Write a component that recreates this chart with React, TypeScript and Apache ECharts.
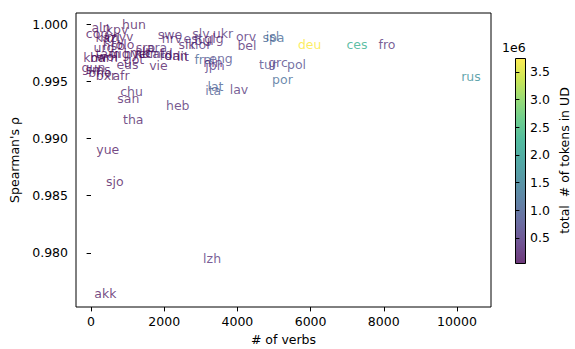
import React, { useEffect, useRef } from "react";
import * as echarts from "echarts";

const names = [
  "akk", "lzh", "sjo", "yue", "tha", "heb", "san", "chu", "ita", "lat",
  "lav", "por", "rus", "deu", "ces", "fro", "bel", "pol", "tur", "grc",
  "isl", "spa", "swe", "slv", "ukr", "orv", "hrv", "est", "bul", "glg",
  "slk", "nor", "fra", "eng", "jpn", "hin", "vie", "ara", "srp", "lit",
  "got", "eus", "kmr", "bam", "gun", "bho", "bxr", "afr", "sms", "aln",
  "kpv", "hun", "cop", "kaz", "myv", "krl", "urd", "hsb", "olo", "tam",
  "uig", "kor", "hye", "cat", "nld", "ron", "dan", "mlt", "wol",
];
const verbs = [
  391, 3309, 653, 457, 1155, 2370, 1020, 1109, 3340, 3400,
  4044, 5232, 10383, 5976, 7268, 8087, 4262, 5615, 4836, 5109,
  4959, 4986, 2158, 3005, 3607, 4235, 2213, 2787, 3087, 3361,
  2623, 3005, 3060, 3552, 3388, 3333, 1844, 1803, 1489, 2514,
  1175, 997, 123, 355, 68, 246, 410, 820, 191, 273,
  710, 1175, 164, 410, 792, 574, 355, 628, 929, 464,
  792, 1475, 1202, 1749, 1967, 2158, 2322, 1339, 437,
];
const rho = [
  0.97646, 0.97947, 0.98628, 0.98907, 0.99169, 0.99286, 0.99349, 0.99408, 0.99423, 0.99454,
  0.99425, 0.99519, 0.99539, 0.99821, 0.99821, 0.99821, 0.99812, 0.9965, 0.9965, 0.99664,
  0.99897, 0.99888, 0.99914, 0.99923, 0.9992, 0.99897, 0.99873, 0.99879, 0.99862, 0.99879,
  0.99827, 0.99827, 0.99693, 0.997, 0.99641, 0.99666, 0.99635, 0.99795, 0.99795, 0.99722,
  0.99693, 0.9965, 0.99707, 0.99707, 0.9962, 0.99576, 0.99548, 0.99548, 0.996, 0.99973,
  0.99958, 0.99997, 0.99923, 0.99886, 0.99897, 0.99879, 0.99798, 0.9981, 0.99827, 0.99748,
  0.99748, 0.99748, 0.9974, 0.9974, 0.99748, 0.99731, 0.99731, 0.99757, 0.99722,
];
// total # of tokens in UD, in millions
const tokens = [
  0.06, 0.35, 0.05, 0.06, 0.15, 0.3, 0.15, 0.25, 0.95, 1.0,
  0.35, 1.15, 1.7, 3.75, 2.25, 0.35, 0.3, 0.7, 0.7, 0.6,
  1.05, 1.1, 0.3, 0.3, 0.35, 0.4, 0.25, 0.45, 0.2, 0.2,
  0.15, 0.55, 1.05, 0.75, 0.5, 0.4, 0.1, 0.35, 0.1, 0.12,
  0.07, 0.15, 0.06, 0.05, 0.05, 0.05, 0.05, 0.08, 0.05, 0.05,
  0.06, 0.07, 0.06, 0.06, 0.07, 0.05, 0.15, 0.06, 0.05, 0.05,
  0.06, 0.15, 0.06, 0.2, 0.3, 0.3, 0.1, 0.05, 0.05,
];
const xTicks = [0, 2000, 4000, 6000, 8000, 10000];
const yTicks = [0.98, 0.985, 0.99, 0.995, 1.0];
const cbTicks = [0.5, 1.0, 1.5, 2.0, 2.5, 3.0, 3.5];
const cbMin = 0.048;
const cbMax = 3.753;

const VIRIDIS = [
  "#440154", "#482475", "#414487", "#355f8d", "#2a788e", "#21918c",
  "#22a884", "#44bf70", "#7ad151", "#bddf26", "#fde725",
];
const BAR_ALPHA = 0.78;
const LABEL_ALPHA = 0.92;
const FONT = "DejaVu Sans";

function hexToRgb(h: string) {
  return [parseInt(h.slice(1, 3), 16), parseInt(h.slice(3, 5), 16), parseInt(h.slice(5, 7), 16)];
}
function viridis(t: number, alpha: number): string {
  const tt = Math.max(0, Math.min(1, t));
  const p = tt * (VIRIDIS.length - 1);
  const i = Math.min(Math.floor(p), VIRIDIS.length - 2);
  const f = p - i;
  const a = hexToRgb(VIRIDIS[i]);
  const b = hexToRgb(VIRIDIS[i + 1]);
  const c = a.map((v, k) => Math.round(v + (b[k] - v) * f));
  return `rgba(${c[0]},${c[1]},${c[2]},${alpha})`;
}

export default function App() {
  const ref = useRef<HTMLDivElement>(null);
  useEffect(() => {
    if (!ref.current) return;
    const chart = echarts.init(ref.current, null, { renderer: "svg" });
    const data = names.map((n, i) => ({
      name: n,
      value: [verbs[i], rho[i]],
      label: { color: viridis((tokens[i] - cbMin) / (cbMax - cbMin), LABEL_ALPHA) },
    }));
    const stops = VIRIDIS.map((_, k) => ({
      offset: k / (VIRIDIS.length - 1),
      color: viridis(k / (VIRIDIS.length - 1), BAR_ALPHA),
    }));
    const txt = { color: "#000", fontSize: 12.5, fontFamily: FONT };
    chart.setOption({
      animation: false,
      backgroundColor: "#fff",
      grid: [
        { left: 76, top: 13, width: 415, height: 294, show: true, borderColor: "#000", borderWidth: 1, containLabel: false, outerBoundsMode: "none" },
        { left: 515, top: 58, width: 10, height: 205, show: false, containLabel: false, outerBoundsMode: "none" },
      ],
      xAxis: [
        {
          gridIndex: 0, type: "value", min: -410, max: 10930,
          axisLine: { show: false }, splitLine: { show: false },
          axisTick: { show: true, length: 4.4, lineStyle: { color: "#000", width: 1 }, customValues: xTicks },
          axisLabel: { ...txt, margin: 8, customValues: xTicks, formatter: (v: number) => String(v) },
          name: "# of verbs", nameLocation: "middle", nameGap: 25, nameTextStyle: txt,
        },
        { gridIndex: 1, type: "value", min: 0, max: 1, show: false },
      ],
      yAxis: [
        {
          gridIndex: 0, type: "value", min: 0.975263, max: 1.000987,
          axisLine: { show: false }, splitLine: { show: false },
          axisTick: { show: true, length: 4.4, lineStyle: { color: "#000", width: 1 }, customValues: yTicks },
          axisLabel: { ...txt, margin: 8, customValues: yTicks, formatter: (v: number) => v.toFixed(3) },
          name: "Spearman's ρ", nameLocation: "middle", nameGap: 45, nameRotate: 90, nameTextStyle: txt,
        },
        {
          gridIndex: 1, type: "value", position: "right", min: cbMin, max: cbMax,
          axisLine: { show: false }, splitLine: { show: false },
          axisTick: { show: true, length: 4.4, lineStyle: { color: "#000", width: 1 }, customValues: cbTicks },
          axisLabel: { ...txt, margin: 5, customValues: cbTicks, formatter: (v: number) => v.toFixed(1) },
          name: "total  # of tokens in UD", nameLocation: "middle", nameGap: 33, nameRotate: 90, nameTextStyle: txt,
        },
      ],
      graphic: [
        {
          type: "rect", left: 515, top: 58, z: 0,
          shape: { width: 10, height: 205 },
          style: { fill: new echarts.graphic.LinearGradient(0, 1, 0, 0, stops), stroke: "#000", lineWidth: 1 },
        },
        {
          type: "text", left: 502, top: 41,
          style: { text: "1e6", fill: "#000", fontSize: 12.5, fontFamily: FONT },
        },
      ],
      series: [
        {
          type: "scatter", xAxisIndex: 0, yAxisIndex: 0, symbolSize: 1, silent: true,
          itemStyle: { color: "rgba(0,0,0,0)" },
          label: {
            show: true, position: "inside", formatter: "{b}", fontSize: 12.5, fontFamily: FONT,
            align: "center", verticalAlign: "middle", textBorderWidth: 0, textBorderColor: "transparent",
          },
          data,
        },
      ],
    });
    return () => chart.dispose();
  }, []);
  return <div ref={ref} style={{ position: "fixed", left: 0, top: 0, width: 575, height: 349 }} />;
}
